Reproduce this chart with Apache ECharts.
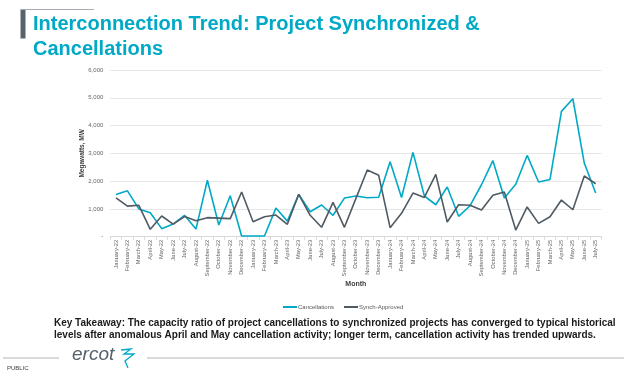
<!DOCTYPE html>
<html>
<head>
<meta charset="utf-8">
<script src="https://cdn.jsdelivr.net/npm/echarts@6/dist/echarts.min.js"></script>
<style>
html,body{margin:0;padding:0;background:#fff;}
#chart{width:624px;height:370px;}
</style>
</head>
<body>
<div id="chart"></div>
<script>
var months = ["January-22","February-22","March-22","April-22","May-22","June-22","July-22","August-22","September-22","October-22","November-22","December-22",
"January-23","February-23","March-23","April-23","May-23","June-23","July-23","August-23","September-23","October-23","November-23","December-23",
"January-24","February-24","March-24","April-24","May-24","June-24","July-24","August-24","September-24","October-24","November-24","December-24",
"January-25","February-25","March-25","April-25","May-25","June-25","July-25"];

var cancellations = [1520,1650,1000,860,290,455,770,275,2030,420,1475,25,
25,25,1030,560,1525,900,1140,770,1390,1465,1400,1420,
2700,1410,3035,1465,1150,1790,733,1115,1870,2735,1390,1885,
2925,1970,2060,4510,4965,2650,1570];

var synchApproved = [1400,1100,1130,265,745,455,725,575,685,670,650,1610,
540,720,780,445,1525,770,338,1237,338,1370,2400,2210,
325,840,1570,1415,2245,530,1150,1130,960,1490,1610,240,
1070,480,720,1320,970,2185,1905];

var yTicks = [0,1000,2000,3000,4000,5000,6000];

var titleLines = ["Interconnection Trend: Project Synchronized &", "Cancellations"];
var takeawayLines = ["Key Takeaway: The capacity ratio of project cancellations to synchronized projects has converged to typical historical",
"levels after anomalous April and May cancellation activity; longer term, cancellation activity has trended upwards."];

var TEAL = '#00a9c6';
var DARK = '#4f5a63';

var chart = echarts.init(document.getElementById('chart'), null, {renderer:'canvas'});
chart.setOption({
  animation:false,
  backgroundColor:'#ffffff',
  grid:{left:110.3, right:22.6, top:70, bottom:133.3, containLabel:false},
  legend:{
    data:['Cancellations','Synch-Approved'],
    top:299, left:278,
    icon:'rect', itemWidth:14, itemHeight:2, itemGap:10,
    textStyle:{fontSize:6, color:'#595959', fontFamily:'Liberation Sans', padding:[0,0,0,-4]}
  },
  xAxis:{
    type:'category', data:months, boundaryGap:true,
    name:'Month', nameLocation:'middle', nameGap:44, nameMoveOverlap:false,
    nameTextStyle:{fontSize:7, fontWeight:'bold', color:'#404040', fontFamily:'Liberation Sans'},
    axisLine:{lineStyle:{color:'#d9d9d9', width:1}},
    axisTick:{show:true, length:3, lineStyle:{color:'#d9d9d9'}},
    axisLabel:{interval:0, rotate:90, fontSize:5.8, color:'#666666', margin:3, fontFamily:'Liberation Sans'}
  },
  yAxis:{
    type:'value', min:0, max:6000, interval:1000,
    name:'Megawatts, MW', nameLocation:'middle', nameGap:25, nameRotate:90, nameMoveOverlap:false,
    nameTextStyle:{fontSize:6.5, fontWeight:'bold', color:'#404040', fontFamily:'Liberation Sans'},
    axisLine:{show:false}, axisTick:{show:false},
    splitLine:{lineStyle:{color:'#e6e6e6', width:1.2}},
    axisLabel:{fontSize:6, color:'#666666', margin:7, fontFamily:'Liberation Sans',
      formatter:function(v){ return v===0 ? '-' : v.toLocaleString('en-US'); }}
  },
  series:[
    {name:'Cancellations', type:'line', data:cancellations, symbol:'none', color:TEAL,
     lineStyle:{color:TEAL, width:1.6}},
    {name:'Synch-Approved', type:'line', data:synchApproved, symbol:'none', color:DARK,
     lineStyle:{color:DARK, width:1.6}}
  ],
  graphic:[
    {type:'rect', shape:{x:20.5, y:9.5, width:5, height:29}, style:{fill:'#56626c'}},
    {type:'line', shape:{x1:20.5, y1:9.5, x2:94, y2:9.5}, style:{stroke:'#a6acb1', lineWidth:1}},
    {type:'text', left:33, top:14.5, style:{text:titleLines[0], font:'bold 20px "Liberation Sans", Arial, sans-serif', fill:TEAL}},
    {type:'text', left:33, top:39.5, style:{text:titleLines[1], font:'bold 20px "Liberation Sans", Arial, sans-serif', fill:TEAL}},
    {type:'text', left:54, top:318, style:{text:takeawayLines[0], font:'bold 10px "Liberation Sans", Arial, sans-serif', fill:'#1a1a1a'}},
    {type:'text', left:54, top:330, style:{text:takeawayLines[1], font:'bold 10px "Liberation Sans", Arial, sans-serif', fill:'#1a1a1a'}},
    {type:'line', shape:{x1:3, y1:358, x2:59, y2:358}, style:{stroke:'#b0b5b9', lineWidth:1}},
    {type:'line', shape:{x1:147, y1:358, x2:624, y2:358}, style:{stroke:'#b0b5b9', lineWidth:1}},
    {type:'text', left:72, top:345, style:{text:'ercot', font:'italic 19px "Liberation Sans Narrow", "Liberation Sans", sans-serif', fill:'#56626c'}},
    {type:'polyline', shape:{points:[[121,350],[131,349],[124,354],[134,354],[125,361],[128,368]]}, style:{stroke:TEAL, lineWidth:1.3, fill:null}},
    {type:'text', left:7, top:365, style:{text:'PUBLIC', font:'6px "Liberation Sans", sans-serif', fill:'#404040'}}
  ]
});
</script>
</body>
</html>
